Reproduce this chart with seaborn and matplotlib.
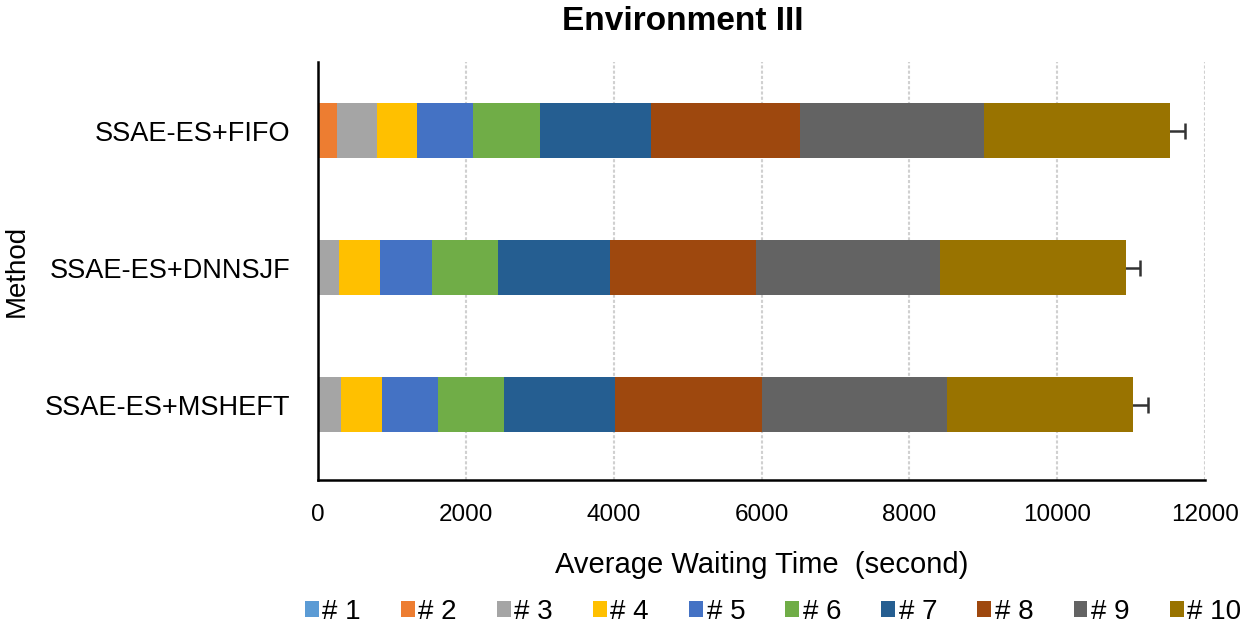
import matplotlib
matplotlib.use("Agg")
import matplotlib.pyplot as plt
import numpy as np
import pandas as pd
import seaborn as sns
from matplotlib.patches import Patch

# waiting time per job (#1..#10)
methods = ["SSAE-ES+FIFO", "SSAE-ES+DNNSJF", "SSAE-ES+MSHEFT"]
jobs = ["# 1", "# 2", "# 3", "# 4", "# 5", "# 6", "# 7", "# 8", "# 9", "# 10"]
fifo = [0, 260, 540, 540, 760, 900, 1500, 2020, 2490, 2520]
dnnsjf = [0, 0, 280, 560, 700, 890, 1520, 1980, 2490, 2510]
msheft = [0, 0, 310, 555, 755, 890, 1505, 1995, 2500, 2510]
errors = [200, 190, 210]
colors = ["#5B9BD5", "#ED7D31", "#A5A5A5", "#FFC000", "#4472C4",
          "#70AD47", "#255E91", "#9E480E", "#636363", "#997300"]

sns.set_theme(style="white")
plt.rcParams["font.family"] = ["Liberation Sans", "DejaVu Sans"]
plt.rcParams["text.color"] = "black"
plt.rcParams["axes.labelcolor"] = "black"
plt.rcParams["xtick.color"] = "black"
plt.rcParams["ytick.color"] = "black"

values = np.array([fifo, dnnsjf, msheft])
cum = values.cumsum(axis=1)
df = pd.DataFrame(cum, columns=jobs)
df["Method"] = methods

fig = plt.figure(figsize=(12.55, 6.32), dpi=100)
ax = fig.add_axes([318 / 1255, 1 - 480 / 632, (1205 - 318) / 1255, (480 - 62) / 632])

# error bars sit under the bars so only the upper half shows
ax.errorbar(cum[:, -1], np.arange(len(methods)), xerr=errors,
            fmt="none", ecolor="#333333", elinewidth=1.8, capsize=6, capthick=1.8, zorder=1.5)

# draw cumulative bars from the largest down so each layer shows its segment
for i in range(len(jobs) - 1, -1, -1):
    sns.barplot(data=df, x=jobs[i], y="Method", color=colors[i], orient="h",
                width=0.4, saturation=1, errorbar=None, linewidth=0, ax=ax, zorder=2)

ax.set_xlim(0, 12000)
ax.set_ylim(2.55, -0.5)
ax.set_xticks(range(0, 12001, 2000))
ax.xaxis.grid(True, color="#d0d0d0", linestyle=(0, (1.5, 1)), linewidth=1.5)
ax.set_axisbelow(True)
for s in ["top", "right"]:
    ax.spines[s].set_visible(False)
for s in ["left", "bottom"]:
    ax.spines[s].set_color("black")
    ax.spines[s].set_linewidth(1.8)
ax.tick_params(axis="x", direction="in", length=4, width=1, labelsize=17.5, pad=17)
ax.tick_params(axis="y", length=0, labelsize=19.5, pad=20)

fig.suptitle("Environment III", x=683 / 1255, y=1 - 22 / 632, va="center",
             fontsize=24, fontweight="bold")
ax.set_xlabel("Average Waiting Time  (second)", fontsize=21, labelpad=18)
ax.set_ylabel("Method", fontsize=20)
# y label sits near the left figure edge, as in the reference
ax.yaxis.set_label_coords((30 - 318) / (1205 - 318), 0.5)

handles = [Patch(facecolor=c, edgecolor="none") for c in colors]
fig.legend(handles, jobs, loc="center", bbox_to_anchor=(773 / 1255, 1 - 612 / 632), ncol=10,
           frameon=False, fontsize=20, handlelength=0.5, handleheight=0.5,
           handletextpad=0.12, columnspacing=1.45, borderpad=0.1)

fig.savefig("out.png", dpi=100)
